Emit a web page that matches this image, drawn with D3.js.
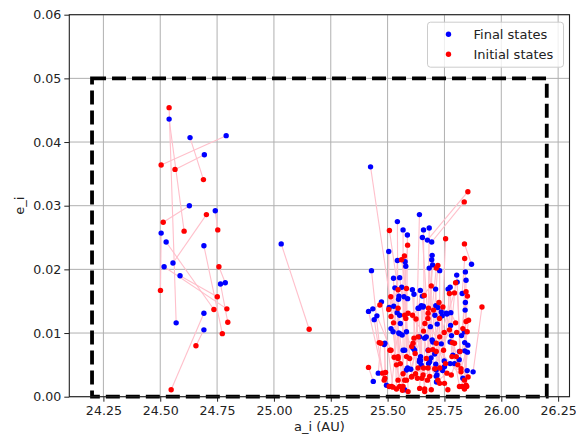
<!DOCTYPE html>
<html>
<head>
<meta charset="utf-8">
<style>
  body { margin: 0; background: #fff; }
  svg { display: block; font-family: "DejaVu Sans", sans-serif; }
</style>
</head>
<body>
<svg width="576" height="437"></svg>
<script src="https://d3js.org/d3.v7.min.js"></script>
<script>

// final states (blue) and initial states (red), same index = same object
var finalA = [
  24.539, 24.631, 24.790, 24.694, 24.742, 24.628, 24.504, 24.526, 24.517, 24.692,
  24.692, 24.570, 24.587, 24.692, 24.765, 24.786, 24.556,
  25.032,
  25.425, 25.429, 25.437, 25.441, 25.416, 25.435, 25.485, 25.495, 25.453, 25.473,
  25.543, 25.505, 25.543, 25.526, 25.532, 25.548, 25.550, 25.549, 25.524, 25.515,
  25.542, 25.527, 25.507, 25.568, 25.587, 25.577, 25.580, 25.553, 25.562, 25.572,
  25.588, 25.588, 25.575, 25.564, 25.556, 25.640, 25.609, 25.644, 25.616, 25.648,
  25.638, 25.645, 25.645, 25.640, 25.612, 25.602, 25.648, 25.658, 25.683, 25.653,
  25.675, 25.694, 25.696, 25.694, 25.698, 25.683, 25.653, 25.657, 25.688, 25.670,
  25.696, 25.691, 25.680, 25.729, 25.711, 25.708, 25.712, 25.721, 25.740, 25.718,
  25.736, 25.749, 25.742, 25.717, 25.712, 25.715, 25.707, 25.766, 25.775, 25.761,
  25.778, 25.777, 25.775, 25.781, 25.775, 25.804, 25.842, 25.869, 25.845, 25.842,
  25.841, 25.828, 25.806, 25.825, 25.839, 25.839, 25.851, 25.815, 25.850, 25.876,
  25.634, 25.553, 25.736, 25.758, 25.656, 25.583, 25.553, 25.641, 25.663, 25.838,
  25.853, 25.699, 25.619, 25.568, 25.678, 25.816, 25.787, 25.488, 25.459, 25.641,
  25.685, 25.714, 25.750, 25.794, 25.831, 25.583, 25.575, 25.714
];
var finalE = [
  0.0436, 0.0407, 0.0410, 0.0380, 0.0292, 0.0300, 0.0257, 0.0243, 0.0204, 0.0131,
  0.0105, 0.0116, 0.0190, 0.0237, 0.0177, 0.0179, 0.0210,
  0.0240,
  0.0361, 0.0198, 0.0024, 0.0121, 0.0134, 0.0138, 0.0082, 0.0018, 0.0127, 0.0149,
  0.0275, 0.0228, 0.0214, 0.0186, 0.0171, 0.0153, 0.0158, 0.0100, 0.0102, 0.0107,
  0.0132, 0.0142, 0.0140, 0.0262, 0.0254, 0.0212, 0.0205, 0.0187, 0.0172, 0.0157,
  0.0154, 0.0045, 0.0073, 0.0097, 0.0115, 0.0286, 0.0168, 0.0167, 0.0161, 0.0143,
  0.0139, 0.0063, 0.0057, 0.0055, 0.0076, 0.0043, 0.0050, 0.0262, 0.0265, 0.0250,
  0.0246, 0.0243, 0.0222, 0.0215, 0.0207, 0.0202, 0.0158, 0.0142, 0.0110, 0.0094,
  0.0089, 0.0061, 0.0052, 0.0198, 0.0169, 0.0128, 0.0143, 0.0140, 0.0127, 0.0114,
  0.0083, 0.0056, 0.0041, 0.0034, 0.0051, 0.0023, 0.0067, 0.0169, 0.0172, 0.0130,
  0.0132, 0.0112, 0.0086, 0.0096, 0.0052, 0.0191, 0.0196, 0.0208, 0.0183, 0.0148,
  0.0136, 0.0162, 0.0180, 0.0096, 0.0085, 0.0072, 0.0070, 0.0058, 0.0041, 0.0039,
  0.0139, 0.0128, 0.0133, 0.0131, 0.0141, 0.0102, 0.0099, 0.0094, 0.0092, 0.0102,
  0.0081, 0.0086, 0.0073, 0.0073, 0.0073, 0.0071, 0.0065, 0.0084, 0.0037, 0.0058,
  0.0055, 0.0042, 0.0047, 0.0052, 0.0029, 0.0042, 0.0011, 0.0032
];
var initA = [
  24.605, 24.690, 24.504, 24.565, 24.753, 24.513, 24.501, 24.736, 24.793, 24.548,
  24.657, 24.539, 24.751, 24.773, 24.797, 24.758, 24.703,
  25.155,
  25.526, 25.463, 25.416, 25.478, 25.485, 25.466, 25.491, 25.507, 25.515, 25.524,
  25.546, 25.505, 25.529, 25.539, 25.515, 25.546, 25.508, 25.514, 25.553, 25.546,
  25.565, 25.556, 25.546, 25.568, 25.583, 25.583, 25.580, 25.575, 25.597, 25.607,
  25.561, 25.574, 25.583, 25.588, 25.606, 25.623, 25.631, 25.621, 25.616, 25.651,
  25.610, 25.625, 25.634, 25.661, 25.658, 25.664, 25.658, 25.663, 25.675, 25.677,
  25.853, 25.837, 25.685, 25.680, 25.680, 25.699, 25.692, 25.707, 25.714, 25.702,
  25.721, 25.728, 25.721, 25.729, 25.729, 25.714, 25.726, 25.729, 25.746, 25.743,
  25.755, 25.749, 25.772, 25.755, 25.772, 25.761, 25.794, 25.783, 25.785, 25.809,
  25.799, 25.802, 25.799, 25.804, 25.823, 25.828, 25.831, 25.838, 25.838, 25.845,
  25.848, 25.839, 25.818, 25.845, 25.851, 25.856, 25.838, 25.850, 25.854, 25.915,
  25.663, 25.517, 25.750, 25.816, 25.641, 25.590, 25.575, 25.656, 25.692, 25.845,
  25.823, 25.765, 25.605, 25.568, 25.678, 25.780, 25.794, 25.488, 25.470, 25.612,
  25.670, 25.714, 25.678, 25.634, 25.590, 25.546, 25.510, 25.539
];
var initE = [
  0.0260, 0.0341, 0.0364, 0.0357, 0.0262, 0.0274, 0.0167, 0.0137, 0.0138, 0.0011,
  0.0080, 0.0454, 0.0157, 0.0099, 0.0117, 0.0204, 0.0286,
  0.0106,
  0.0116, 0.0085, 0.0046, 0.0037, 0.0026, 0.0144, 0.0038, 0.0016, 0.0073, 0.0015,
  0.0063, 0.0137, 0.0062, 0.0012, 0.0126, 0.0026, 0.0261, 0.0157, 0.0016, 0.0139,
  0.0010, 0.0052, 0.0168, 0.0036, 0.0026, 0.0063, 0.0123, 0.0128, 0.0060, 0.0032,
  0.0215, 0.0221, 0.0170, 0.0238, 0.0079, 0.0036, 0.0029, 0.0068, 0.0092, 0.0029,
  0.0128, 0.0122, 0.0094, 0.0159, 0.0103, 0.0115, 0.0045, 0.0012, 0.0026, 0.0123,
  0.0322, 0.0306, 0.0032, 0.0073, 0.0139, 0.0074, 0.0174, 0.0044, 0.0202, 0.0136,
  0.0206, 0.0123, 0.0026, 0.0021, 0.0045, 0.0084, 0.0148, 0.0094, 0.0073, 0.0141,
  0.0248, 0.0101, 0.0162, 0.0052, 0.0105, 0.0037, 0.0163, 0.0063, 0.0085, 0.0050,
  0.0116, 0.0063, 0.0179, 0.0101, 0.0039, 0.0016, 0.0107, 0.0240, 0.0012, 0.0118,
  0.0016, 0.0217, 0.0071, 0.0165, 0.0158, 0.0120, 0.0026, 0.0102, 0.0031, 0.0141,
  0.0008, 0.0016, 0.0021, 0.0016, 0.0013, 0.0008, 0.0026, 0.0034, 0.0011, 0.0018,
  0.0044, 0.0011, 0.0031, 0.0016, 0.0045, 0.0034, 0.0084, 0.0029, 0.0084, 0.0084,
  0.0060, 0.0071, 0.0131, 0.0045, 0.0131, 0.0060, 0.0073, 0.0050
];

var xTicks = [24.25, 24.5, 24.75, 25.0, 25.25, 25.5, 25.75, 26.0, 26.25];
var yTicks = [0, 0.01, 0.02, 0.03, 0.04, 0.05, 0.06];
var boxA = [24.2, 26.2];   // dashed region in a
var boxE = [0, 0.05];      // dashed region in e
var legendNames = ["Final states", "Initial states"];
var colors = ["blue", "red"];

var svg = d3.select("svg"),
    margin = {top: 14.7, right: 6.5, bottom: 40.3, left: 69.3},
    width = +svg.attr("width") - margin.left - margin.right,
    height = +svg.attr("height") - margin.top - margin.bottom;

var x = d3.scaleLinear().domain([24.1, 26.3]).range([0, width]);
var y = d3.scaleLinear().domain([0, 0.06]).range([height, 0]);

var g = svg.append("g").attr("transform", "translate(" + margin.left + "," + margin.top + ")");

// grid
g.append("g").selectAll("line").data(xTicks).enter().append("line")
    .attr("x1", function(d) { return x(d); }).attr("x2", function(d) { return x(d); })
    .attr("y1", 0).attr("y2", height)
    .attr("stroke", "#b0b0b0").attr("stroke-width", 1);
g.append("g").selectAll("line").data(yTicks).enter().append("line")
    .attr("y1", function(d) { return y(d); }).attr("y2", function(d) { return y(d); })
    .attr("x1", 0).attr("x2", width)
    .attr("stroke", "#b0b0b0").attr("stroke-width", 1);

// axes
var xAxis = g.append("g").attr("transform", "translate(0," + height + ")")
    .call(d3.axisBottom(x).tickValues(xTicks).tickFormat(d3.format(".2f")).tickSize(5).tickPadding(4));
var yAxis = g.append("g")
    .call(d3.axisLeft(y).tickValues(yTicks).tickFormat(d3.format(".2f")).tickSize(5).tickPadding(3));
[xAxis, yAxis].forEach(function(a) {
  a.select(".domain").remove();
  a.selectAll("line").attr("stroke", "#222").attr("stroke-width", 1);
  a.selectAll("text").attr("font-size", 12.6).attr("fill", "#222").attr("font-family", "DejaVu Sans");
});

// connection lines
var idx = d3.range(finalA.length);
g.append("g").selectAll("line").data(idx).enter().append("line")
    .attr("x1", function(i) { return x(finalA[i]); })
    .attr("y1", function(i) { return y(finalE[i]); })
    .attr("x2", function(i) { return x(initA[i]); })
    .attr("y2", function(i) { return y(initE[i]); })
    .attr("stroke", "pink").attr("stroke-width", 1.1);

// points
g.append("g").selectAll("circle").data(idx).enter().append("circle")
    .attr("cx", function(i) { return x(finalA[i]); })
    .attr("cy", function(i) { return y(finalE[i]); })
    .attr("r", 2.7).attr("fill", colors[0]);
g.append("g").selectAll("circle").data(idx).enter().append("circle")
    .attr("cx", function(i) { return x(initA[i]); })
    .attr("cy", function(i) { return y(initE[i]); })
    .attr("r", 2.7).attr("fill", colors[1]);

// dashed box
g.append("rect")
    .attr("x", x(boxA[0])).attr("y", y(boxE[1]))
    .attr("width", x(boxA[1]) - x(boxA[0]))
    .attr("height", y(boxE[0]) - y(boxE[1]))
    .attr("fill", "none").attr("stroke", "black")
    .attr("stroke-width", 3.8).attr("stroke-dasharray", "14,6");

// frame
g.append("rect").attr("width", width).attr("height", height)
    .attr("fill", "none").attr("stroke", "#222").attr("stroke-width", 1.1);

// legend
var leg = g.append("g").attr("transform", "translate(" + (width - 142) + ",7.5)");
leg.append("rect").attr("width", 136).attr("height", 45).attr("rx", 3)
    .attr("fill", "white").attr("fill-opacity", 0.8)
    .attr("stroke", "#ccc").attr("stroke-width", 1);
legendNames.forEach(function(name, i) {
  leg.append("circle").attr("cx", 21).attr("cy", 12 + i * 20).attr("r", 2.7).attr("fill", colors[i]);
  leg.append("text").attr("x", 46).attr("y", 12 + i * 20).attr("dy", "0.35em")
      .attr("font-size", 13).attr("fill", "#222").text(name);
});

// axis labels
svg.append("text").attr("x", margin.left + width / 2).attr("y", 431)
    .attr("text-anchor", "middle").attr("font-size", 13).attr("fill", "#222").text("a_i (AU)");
svg.append("text").attr("transform", "translate(24," + (margin.top + height / 2) + ") rotate(-90)")
    .attr("text-anchor", "middle").attr("font-size", 13).attr("fill", "#222").text("e_i");

</script>
</body>
</html>
